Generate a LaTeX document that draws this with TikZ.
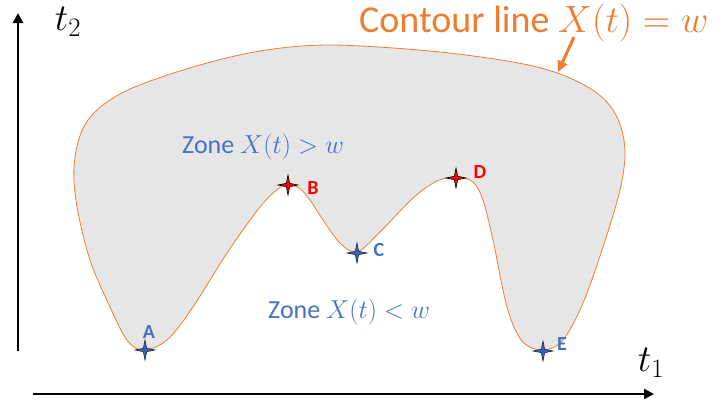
\RequirePackage{fix-cm}
\documentclass[tikz,border=0pt]{standalone}
\usepackage{fontspec}
\setmainfont{Carlito}
\usetikzlibrary{arrows.meta,shapes.geometric}
\definecolor{corange}{HTML}{ED7D31}
\definecolor{cblue}{HTML}{4472C4}
\definecolor{cstarblue}{HTML}{3A64B0}
\definecolor{cnavy}{HTML}{1F2A44}
\definecolor{cgray}{HTML}{E7E6E6}
\definecolor{cred}{HTML}{FF0000}
\begin{document}
\begin{tikzpicture}[x=1pt,y=-1pt,
  axis/.style={line width=2.6pt,-{Triangle[length=10pt,width=10pt]}},
  axlabel/.style={inner sep=0pt,font=\fontsize{38}{40}\selectfont},
  zonetext/.style={inner sep=0pt,text=cblue,font=\fontsize{26}{28}\selectfont,anchor=base west},
  ptlabel/.style={inner sep=0pt,font=\fontsize{20}{22}\selectfont\bfseries},
  starbase/.style={star,star points=4,star point ratio=4.2,minimum size=20pt,inner sep=0pt,line width=0.6pt},
  bluestar/.style={starbase,fill=cstarblue,draw=cnavy},
  redstar/.style={starbase,fill=cred,draw=black},
  contour/.style={fill=cgray,draw=corange,line width=0.8pt}]
\useasboundingbox (0,0) rectangle (723,405);

% contour region
\path[contour] plot[smooth cycle,tension=0.55] coordinates {
 (143,350) (167,340) (193,307) (227,253) (260,207) (279,188) (288,185)
 (299,188) (310,200) (323,220) (340,243) (357,252) (380,232) (413,198)
 (437,181) (457,177) (473,182) (483,200) (493,240) (507,307) (522,341)
 (543,350) (563,340) (583,303) (603,247) (620,190) (625,150) (617,117)
 (597,93) (560,74) (513,62) (430,51) (330,45) (260,51) (193,67) (130,89)
 (97,110) (81,133) (74,167) (77,207) (90,260) (110,307) (127,340) };

% axes
\coordinate (yo) at (18,351);
\coordinate (ye) at (18,13);
\coordinate (xo) at (33,394);
\coordinate (xe) at (654,394);
\draw[axis] (yo) -- (ye);
\draw[axis] (xo) -- (xe);
\node[axlabel] (t2) at (68,22) {$t_2$};
\node[axlabel] (t1) at (651,363) {$t_1$};

% texts
\node[inner sep=0pt,anchor=base west,text=corange,font=\fontsize{38}{40}\selectfont] (title) at (359,32) {Contour line $X(t)=w$};
\coordinate (arrs) at (574,37);
\coordinate (arre) at (558,72);
\draw[corange,line width=3pt,-{Triangle[length=11pt,width=10pt]}] (arrs) -- (arre);

\node[zonetext] (zup) at (182,153) {Zone $X(t)>w$};
\node[zonetext] (zdn) at (268,318) {Zone $X(t)<w$};

% points
\node[bluestar] (A) at (145,350) {};
\node[redstar]  (B) at (288,185) {};
\node[bluestar] (C) at (357,253) {};
\node[redstar]  (D) at (456,178) {};
\node[bluestar] (E) at (543,351) {};

\node[ptlabel,text=cblue] (lA) at (149,332) {A};
\node[ptlabel,text=cred]  (lB) at (313,188) {B};
\node[ptlabel,text=cblue] (lC) at (379,250) {C};
\node[ptlabel,text=cred]  (lD) at (480,172) {D};
\node[ptlabel,text=cblue] (lE) at (562,344) {E};
\end{tikzpicture}
\end{document}
